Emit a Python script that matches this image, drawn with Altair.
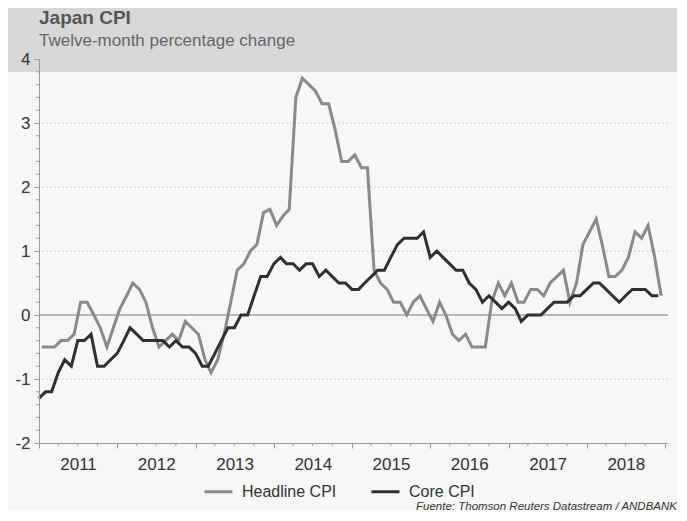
import altair as alt
import pandas as pd

# ---- data (monthly, Jan 2011 - Dec 2018) ----
months = pd.date_range("2011-01-01", "2018-12-01", freq="MS")

headline = [
    -0.5, -0.5, -0.5, -0.4, -0.4, -0.3, 0.2, 0.2, 0.0, -0.2, -0.5, -0.2,    # 2011
    0.1, 0.3, 0.5, 0.4, 0.2, -0.2, -0.5, -0.4, -0.3, -0.4, -0.1, -0.2,      # 2012
    -0.3, -0.7, -0.9, -0.7, -0.3, 0.2, 0.7, 0.8, 1.0, 1.1, 1.6, 1.65,       # 2013
    1.4, 1.55, 1.65, 3.4, 3.7, 3.6, 3.5, 3.3, 3.3, 2.9, 2.4, 2.4,           # 2014
    2.5, 2.3, 2.3, 0.7, 0.5, 0.4, 0.2, 0.2, 0.0, 0.2, 0.3, 0.1,             # 2015
    -0.1, 0.2, 0.0, -0.3, -0.4, -0.3, -0.5, -0.5, -0.5, 0.2, 0.5, 0.3,      # 2016
    0.5, 0.2, 0.2, 0.4, 0.4, 0.3, 0.5, 0.6, 0.7, 0.2, 0.5, 1.1,             # 2017
    1.3, 1.5, 1.1, 0.6, 0.6, 0.7, 0.9, 1.3, 1.2, 1.4, 0.9, 0.3,             # 2018
]

core = [
    -1.3, -1.2, -1.2, -0.9, -0.7, -0.8, -0.4, -0.4, -0.3, -0.8, -0.8, -0.7,  # 2011
    -0.6, -0.4, -0.2, -0.3, -0.4, -0.4, -0.4, -0.4, -0.5, -0.4, -0.5, -0.5,  # 2012
    -0.6, -0.8, -0.8, -0.6, -0.4, -0.2, -0.2, 0.0, 0.0, 0.3, 0.6, 0.6,       # 2013
    0.8, 0.9, 0.8, 0.8, 0.7, 0.8, 0.8, 0.6, 0.7, 0.6, 0.5, 0.5,              # 2014
    0.4, 0.4, 0.5, 0.6, 0.7, 0.7, 0.9, 1.1, 1.2, 1.2, 1.2, 1.3,              # 2015
    0.9, 1.0, 0.9, 0.8, 0.7, 0.7, 0.5, 0.4, 0.2, 0.3, 0.2, 0.1,              # 2016
    0.2, 0.1, -0.1, 0.0, 0.0, 0.0, 0.1, 0.2, 0.2, 0.2, 0.3, 0.3,             # 2017
    0.4, 0.5, 0.5, 0.4, 0.3, 0.2, 0.3, 0.4, 0.4, 0.4, 0.3, 0.3,              # 2018
]

series_names = ["Headline CPI", "Core CPI"]
series_colors = ["#8a8a8a", "#303030"]

y_major = [-2, -1, 0, 1, 2, 3, 4]
y_minor = [round(-2 + 0.2 * i, 1) for i in range(31) if i % 5 != 0]
grid_values = [-1, 1, 2, 3]
x_major = [alt.DateTime(year=y, month=1, date=1) for y in range(2011, 2020)]
x_minor = [d.strftime("%Y-%m-%dT00:00:00")
           for d in pd.date_range("2011-01-01", "2019-01-01", freq="QS") if d.month != 1]

title_text = "Japan CPI"
subtitle_text = "Twelve-month percentage change"
source_text = "Fuente: Thomson Reuters Datastream / ANDBANK"

FONT = "Liberation Sans"
BG = "#f7f7f7"
AXIS_GREY = "#9a9a9a"

# headline series is plotted about half a month later than core in the reference
df = pd.DataFrame({
    "date": list(months + pd.Timedelta(days=13)) + list(months),
    "value": headline + core,
    "series": [series_names[0]] * len(headline) + [series_names[1]] * len(core),
})

y_axis = alt.Axis(
    values=y_major,
    title=None,
    labelExpr="toString(datum.value)",
    labelOverlap=False,
    labelFontSize=17,
    labelColor="#333333",
    labelFont=FONT,
    labelPadding=4,
    domainColor=AXIS_GREY,
    tickColor=AXIS_GREY,
    tickSize=5,
    grid=False,
    zindex=1,
)

x_axis = alt.Axis(
    values=x_major,
    title=None,
    grid=False,
    labelExpr="year(datum.value) < 2019 ? toString(year(datum.value)) : ''",
    labelOffset=39,
    labelFlush=False,
    labelOverlap=False,
    labelFontSize=17,
    labelColor="#333333",
    labelFont=FONT,
    labelPadding=8,
    domainColor=AXIS_GREY,
    tickColor=AXIS_GREY,
    tickSize=5,
)

band = alt.Chart(alt.Data(values=[{"k": 1}])).mark_rect(color="#d8d8d8").encode(
    x=alt.value(-31), x2=alt.value(640), y=alt.value(-51), y2=alt.value(13)
)

grid = alt.Chart(alt.Data(values=[{"v": v} for v in grid_values])).mark_rule(
    color="#cccccc", strokeWidth=1, strokeDash=[2, 2]
).encode(y=alt.Y("v:Q"))

zero = alt.Chart(alt.Data(values=[{"v": 0}])).mark_rule(color="#a3a3a3", strokeWidth=1.5).encode(
    y=alt.Y("v:Q")
)

# minor axis ticks (every 0.2 on y, every quarter on x)
y_minor_ticks = alt.Chart(alt.Data(values=[{"v": v} for v in y_minor])).mark_rule(
    color=AXIS_GREY, strokeWidth=1
).encode(y=alt.Y("v:Q"), x=alt.value(-3), x2=alt.value(0))

x_minor_ticks = alt.Chart(alt.Data(values=[{"d": d} for d in x_minor])).mark_rule(
    color=AXIS_GREY, strokeWidth=1
).encode(x=alt.X("d:T"), y=alt.value(384), y2=alt.value(387))

lines = alt.Chart(df).mark_line(strokeWidth=3).encode(
    x=alt.X("date:T",
            scale=alt.Scale(domain=[alt.DateTime(year=2011, month=1, date=1),
                                    alt.DateTime(year=2019, month=1, date=15)]),
            axis=x_axis),
    y=alt.Y("value:Q", scale=alt.Scale(domain=[-2, 4], nice=False), axis=y_axis),
    color=alt.Color("series:N",
                    scale=alt.Scale(domain=series_names, range=series_colors),
                    sort=series_names,
                    legend=alt.Legend(
                        title=None, orient="none", legendX=164, legendY=417,
                        direction="horizontal", symbolType="stroke",
                        symbolStrokeWidth=3, symbolSize=784,
                        labelFontSize=16, labelColor="#333333", labelFont=FONT,
                        labelOffset=8, columnPadding=28,
                    )),
)

title = alt.Chart(alt.Data(values=[{"t": title_text}])).mark_text(
    align="left", baseline="alphabetic", fontSize=19, fontWeight="bold",
    color="#555555", font=FONT,
).encode(text="t:N", x=alt.value(0), y=alt.value(-35))

subtitle = alt.Chart(alt.Data(values=[{"t": subtitle_text}])).mark_text(
    align="left", baseline="alphabetic", fontSize=17,
    color="#666666", font=FONT,
).encode(text="t:N", x=alt.value(0), y=alt.value(-13))

source = alt.Chart(alt.Data(values=[{"t": source_text}])).mark_text(
    align="right", baseline="alphabetic", fontStyle="italic", fontSize=11.5,
    color="#333333", font=FONT,
).encode(text="t:N", x=alt.value(638), y=alt.value(450.5))

chart = alt.layer(
    band, grid, zero, y_minor_ticks, x_minor_ticks, lines, title, subtitle, source
).properties(
    width=629,
    height=384,
    autosize="none",
    padding={"left": 31, "top": 51, "right": 9, "bottom": 67},
).configure(background=BG).configure_view(fill=BG, stroke=None)

chart.save("out.html", embed_options={"renderer": "svg", "actions": False})
